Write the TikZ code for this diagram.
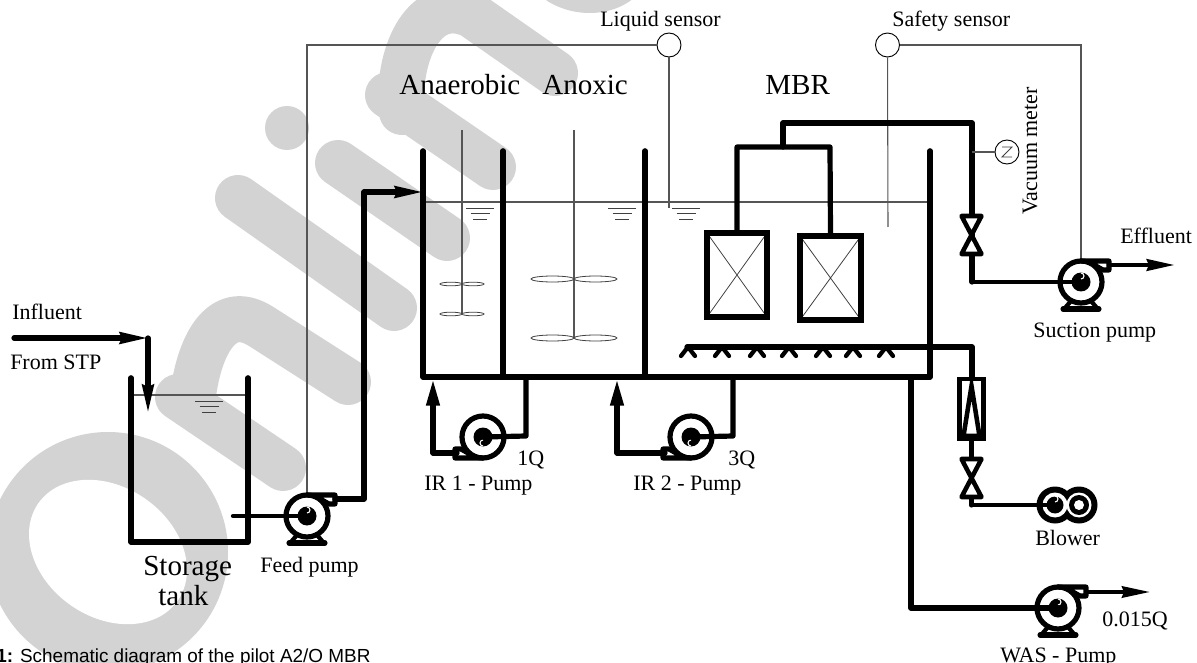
\documentclass[tikz,border=0pt]{standalone}
\usepackage{fontspec}
\setmainfont{Liberation Serif}
\newfontfamily\capfont{Liberation Sans}
\usetikzlibrary{arrows.meta,calc}
\definecolor{wm}{HTML}{D3D3D3}
\definecolor{thinc}{HTML}{555555}
\tikzset{
  x=0.75pt,y=-0.75pt,
  pipe/.style={draw=black,line width=3.9pt,line cap=round,line join=round},
  pipethin/.style={draw=black,line width=3.2pt,line cap=round,line join=round},
  wire/.style={draw=thinc,line width=0.8pt},
  thinb/.style={draw=black!75,line width=0.6pt},
  wall/.style={draw=black,line width=4.2pt,line cap=round,line join=round},
  wmark/.style={draw=wm,line width=34.5pt,line cap=round,line join=round},
  big/.style={inner sep=0pt,anchor=base west,font=\fontsize{21.8pt}{24pt}\selectfont},
  small/.style={inner sep=0pt,anchor=base west,font=\fontsize{16.5pt}{18pt}\selectfont},
  sensor/.style={circle,draw=black,line width=0.7pt,fill=white,minimum size=18pt,inner sep=0pt},
  headH/.style={-{Stealth[length=21pt,width=8.5pt,inset=1.5pt]}},
  headS/.style={-{Stealth[length=20pt,width=9.5pt,inset=0pt]}},
}
% pump: name, x, y, rotation
\newcommand{\pumpbody}[4]{%
  \coordinate (#1) at (#2,#3);
  \begin{scope}[shift={(#2,#3)},rotate=#4]
    \draw[line width=3.9pt,fill=white] (0,0) circle (21);
    \draw[line width=3.8pt,line join=round,line cap=round] (0,-21) -- (28,-21) -- (28,-12) -- (22,-12) -- (15,-16);
    \fill[black] (0,0) circle (9.5);
    \draw[white,line width=0.8pt] (0,-3) arc[start angle=90,end angle=-90,radius=3];
  \end{scope}}
\newcommand{\pumpfeet}[2]{%
  \begin{scope}[shift={(#1,#2)}]
    \draw[line width=3.8pt,line cap=round,line join=round] (-18,27) -- (18,27);
    \draw[line width=3.2pt,line cap=round] (-16,26) -- (-10,19) (16,26) -- (10,19);
  \end{scope}}
\newcommand{\valvebody}[3]{%
  \coordinate (#1) at (#2,#3);
  \draw[line width=3.4pt,line join=round,fill=white] (#2-10,#3-19) -- (#2+10,#3-19) -- (#2-10,#3+19) -- (#2+10,#3+19) -- cycle;}
\newcommand{\levelmark}[2]{%
  \draw[thinb] (#1-14,#2) -- (#1+14,#2);
  \draw[thinb] (#1-9.5,#2+5.5) -- (#1+9.5,#2+5.5);
  \draw[thinb] (#1-7,#2+11) -- (#1+7,#2+11);}
\newcommand{\impeller}[4]{% x,y,half width,semi height
  \draw[thinb,fill=white] (#1-#3,#2) ellipse (#3 and #4);
  \draw[thinb,fill=white] (#1+#3,#2) ellipse (#3 and #4);}
\newcommand{\membrane}[5]{% name x1 y1 x2 y2
  \draw[thinb] (#2,#3) -- (#4,#5) (#2,#5) -- (#4,#3);
  \node[draw=black,line width=3.9pt,inner sep=0pt,minimum width=#4*0.75pt-#2*0.75pt,minimum height=#5*0.75pt-#3*0.75pt,anchor=center] (#1) at ({(#2+#4)/2},{(#3+#5)/2}) {};}
\newcommand{\caret}[2]{%
  \draw[line width=3.2pt,line cap=round,line join=round] (#1-7,#2+9) -- (#1,#2) -- (#1+7,#2+9);}
\begin{document}
\begin{tikzpicture}
\useasboundingbox (0,0) rectangle (1197,663);
\clip (0,0) rectangle (1197,663);
% ---- watermark
\fill[wm] (108,552) circle (120);
\fill[white,rotate around={-35:(108,552)}] (108,552) ellipse (85 and 65);
\draw[wmark] (178,397) -- (283,468);
\draw[wmark] (192,405) .. controls (196,355) and (218,298) .. (262,327) -- (348,382);
\draw[wmark] (238,198) -- (394,308);
\fill[wm] (287,128) circle (22);
\draw[wmark] (338,163) -- (447,238);
\draw[wmark] (388,95) -- (493,167);
\draw[wmark] (402,112) .. controls (396,60) and (422,-8) .. (472,15) -- (555,73);
\fill[wm] (543,-2) .. controls (570,18) and (610,18) .. (634,-2) -- cycle;

% ---- named points
\coordinate (wireTurnA) at (307,45);
\coordinate (wireFeed) at (307,495);
\coordinate (liqEnd) at (669,208);
\coordinate (safeEnd) at (888,227);
\coordinate (wireTurnB) at (1081,45);
\coordinate (wireSuct) at (1081,259);

% ---- storage tank
\draw[wire] (132,395) -- (247,395);
\levelmark{209}{401}
\draw[wall] (131,378) -- (131,542) -- (248,542) -- (248,378);
\coordinate (tankIn) at (233,516);

% ---- reactors
\draw[wire] (425,202) -- (928,202);
\levelmark{480}{208}\levelmark{622}{208}\levelmark{686}{208}
% mixers
\coordinate (shaftA) at (462,130);
\coordinate (shaftAe) at (462,314);
\coordinate (shaftB) at (574,130);
\coordinate (shaftBe) at (574,338);
\draw[wire] (shaftA) -- (shaftAe);
\draw[wire] (shaftB) -- (shaftBe);
\impeller{462}{284}{11}{1.8}
\impeller{462}{314}{11}{1.8}
\impeller{574}{279}{21.5}{3}
\impeller{574}{338}{21.5}{3}
\draw[wall] (423,151) -- (423,377) -- (930,377) -- (930,151);
\draw[wall] (503,151) -- (503,377);
\draw[wall] (645,151) -- (645,377);

% ---- sensors
\node[sensor] (liq) at (669,45) {};
\node[sensor] (safe) at (887.5,45) {};
\node[sensor] (vac) at (1007,152) {};
\draw[wire] (liq) -- (wireTurnA) -- (wireFeed);
\draw[wire] (liq) -- (liqEnd);
\draw[wire] (safe) -- (safeEnd);
\draw[wire] (safe) -- (wireTurnB) -- (wireSuct);

% ---- membranes
\membrane{memA}{707}{233}{767}{317}
\membrane{memB}{800}{236}{861}{320}
\coordinate (manL) at (737,147);
\coordinate (manR) at (830,147);
\coordinate (manC) at (783,147);
\coordinate (manTop) at (783,123);
\coordinate (manEnd) at (972,123);
\coordinate (suctCorner) at (972,282);
\draw[pipe] (memA.north) -- (manL) -- (manR) -- (memB.north);
\draw[pipe] (manC) -- (manTop) -- (manEnd) -- (suctCorner);

% ---- vacuum gauge
\coordinate (vacTap) at (972,152);
\draw[wire] (vacTap) -- (vac);
\draw[thinb] (1002,147) -- (1012,147) -- (1002,157) -- (1012,157);

% ---- aeration
\coordinate (airL) at (687,347);
\coordinate (airCorner) at (972,347);
\coordinate (rotaTop) at (972,379);
\draw[pipe] (airL) -- (airCorner) -- (rotaTop);
\caret{688}{347}\caret{722}{347}\caret{757}{347}\caret{789}{347}\caret{823}{347}\caret{853}{347}\caret{886}{347}
\node[draw=black,fill=white,line width=3.6pt,minimum width=18.5pt,minimum height=45pt,inner sep=0pt] (rota) at (971.5,409) {};
\draw[line width=3.4pt,line join=miter,fill=white] (971.5,386) -- (963.5,436) -- (979.5,436) -- cycle;
\coordinate (blowCorner) at (971.5,505);
\draw[pipe] (rota.south) -- (blowCorner);
\valvebody{valveAir}{971.5}{478}
% blower
\fill[black] (1055,505) circle (18.5) (1079,505) circle (18.5);
\fill[white] (1055,505) circle (12.5) (1079,505) circle (12.5);
\fill[black] (1055,505) circle (8.5) (1079,505) circle (10);
\fill[white] (1079,505) circle (5);
\coordinate (blower) at (1055,505);
\draw[white,line width=0.8pt] (1055,502) arc[start angle=90,end angle=-90,radius=3];
\draw[pipethin] (blowCorner) -- (blower);

% ---- pumps
\pumpbody{feed}{307}{516}{0}\pumpfeet{307}{516}
\pumpbody{suct}{1081}{282}{0}\pumpfeet{1081}{282}
\pumpbody{was}{1058}{608}{0}\pumpfeet{1058}{608}
\pumpbody{irA}{483}{437}{180}
\pumpbody{irB}{691}{437}{180}
\valvebody{valveSuct}{971.5}{235}

% ---- process lines
\coordinate (infS) at (14,338);
\coordinate (infC) at (148,338);
\coordinate (infE) at (148,413);
\draw[pipe,headH] (infS) -- (infC);
\draw[pipe,headH] (infC) -- (infE);
\draw[pipethin] (tankIn) -- (feed);
\coordinate (feedOut) at (335,499);
\coordinate (feedC) at (364,499);
\coordinate (feedU) at (364,192);
\coordinate (feedE) at (423,192);
\draw[pipe] (feedOut) -- (feedC) -- (feedU);
\draw[pipe,headH] (feedU) -- (feedE);
\draw[pipethin] (suctCorner) -- (suct);
\coordinate (suctOut) at (1109,265);
\coordinate (suctE) at (1175,265);
\draw[pipe,line width=3.4pt,headH] (suctOut) -- (suctE);
% IR 1
\coordinate (irAt) at (526,377);
\coordinate (irAc) at (526,436);
\coordinate (irAl) at (433,453);
\coordinate (irAn) at (457,453);
\coordinate (irAu) at (433,379);
\draw[pipe] (irAt) -- (irAc) -- (irA);
\draw[pipe] (irAn) -- (irAl);
\draw[pipe,headS] (irAl) -- (irAu);
% IR 2
\coordinate (irBt) at (733,377);
\coordinate (irBc) at (733,436);
\coordinate (irBl) at (617,453);
\coordinate (irBn) at (665,453);
\coordinate (irBu) at (617,379);
\draw[pipe] (irBt) -- (irBc) -- (irB);
\draw[pipe] (irBn) -- (irBl);
\draw[pipe,headS] (irBl) -- (irBu);
% WAS
\coordinate (wasT) at (911,377);
\coordinate (wasC) at (911,608);
\coordinate (wasOut) at (1086,592);
\coordinate (wasE) at (1150,592);
\draw[pipe] (wasT) -- (wasC) -- (was);
\draw[line width=2.7pt,headH] (wasOut) -- (wasE);

% ---- labels
\node[small] (tInfluent) at (12,320) {Influent};
\node[small] (tFrom) at (10,369) {From STP};
\node[big] (tStorage) at (143,575) {Storage};
\node[big] (tTank) at (158,605) {tank};
\node[small] (tFeed) at (260,572) {Feed pump};
\node[big] (tAna) at (399,95) {Anaerobic};
\node[big] (tAno) at (542,95) {Anoxic};
\node[big] (tMBR) at (765,95) {MBR};
\node[small] (tLiq) at (600,27) {Liquid sensor};
\node[small] (tSafe) at (892,27) {Safety sensor};
\node[small,rotate=90] (tVac) at (1037,215) {Vacuum meter};
\node[small] (tEff) at (1120,244) {Effluent};
\node[small] (tSuc) at (1033,337) {Suction pump};
\node[small] (t1Q) at (517,465) {1Q};
\node[small] (t3Q) at (728,465) {3Q};
\node[small] (tIRa) at (424,490) {IR 1 - Pump};
\node[small] (tIRb) at (633,490) {IR 2 - Pump};
\node[small] (tBlow) at (1035,545) {Blower};
\node[small] (tQ) at (1102,626) {0.015Q};
\node[small] (tWAS) at (1000,662) {WAS - Pump};
\node[inner sep=0pt,anchor=base west,font=\capfont\fontsize{14.2pt}{16pt}\selectfont] (tCap) at (-4,662) {\textbf{1:} Schematic diagram of the pilot A2/O MBR};
\end{tikzpicture}
\end{document}
